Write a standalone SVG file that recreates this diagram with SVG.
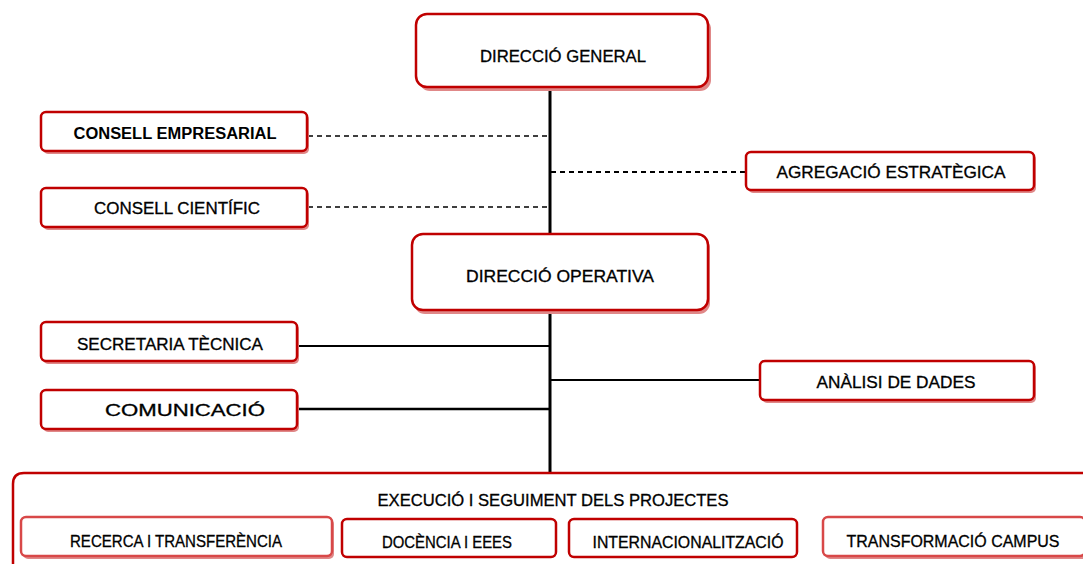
<svg xmlns="http://www.w3.org/2000/svg" width="1083" height="564" viewBox="0 0 1083 564">
<style>
.box{fill:#ffffff;stroke:#c00000;stroke-width:2.5}
.sh{fill:#e08888;stroke:none}
.t{font-family:"Liberation Sans",Arial,sans-serif;font-size:16px;fill:#000;stroke:#000;stroke-width:0.3;text-anchor:middle;dominant-baseline:central}
.b{font-weight:bold;stroke-width:0}
.solid{stroke:#000;stroke-width:2;fill:none}
.dash{stroke:#000;stroke-width:1.5;stroke-dasharray:5,4;fill:none}
</style>
<rect width="1083" height="564" fill="#ffffff"/>
<g id="connectors">
<line class="solid" x1="550" y1="88" x2="550" y2="473" style="stroke-width:3"/>
<line class="dash" x1="308" y1="136" x2="549" y2="136"/>
<line class="dash" x1="308" y1="207" x2="549" y2="207"/>
<line class="dash" x1="551" y1="172" x2="746" y2="172" style="stroke-width:2"/>
<line class="solid" x1="298" y1="346" x2="549" y2="346"/>
<line class="solid" x1="298" y1="409" x2="549" y2="409" style="stroke-width:2.5"/>
<line class="solid" x1="551" y1="380" x2="760" y2="380"/>
</g>
<g id="direccio-general">
<rect class="sh" x="419" y="18" width="292" height="73" rx="11"/>
<rect class="box" x="416" y="14" width="292" height="73" rx="11"/>
<text class="t" x="563" y="56" textLength="166" lengthAdjust="spacingAndGlyphs">DIRECCIÓ GENERAL</text>
</g>
<g id="consell-empresarial">
<rect class="sh" x="43" y="114" width="266" height="40" rx="5"/>
<rect class="box" x="41" y="112" width="266" height="39" rx="5"/>
<text class="t b" x="175" y="133" textLength="203" lengthAdjust="spacingAndGlyphs">CONSELL EMPRESARIAL</text>
</g>
<g id="consell-cientific">
<rect class="sh" x="43" y="190" width="266" height="40" rx="5"/>
<rect class="box" x="41" y="188" width="266" height="39" rx="5"/>
<text class="t" x="177" y="208" textLength="166" lengthAdjust="spacingAndGlyphs">CONSELL CIENTÍFIC</text>
</g>
<g id="agregacio-estrategica">
<rect class="sh" x="748" y="154" width="288" height="39" rx="5"/>
<rect class="box" x="746" y="152" width="288" height="38" rx="5"/>
<text class="t" x="891" y="172" textLength="229" lengthAdjust="spacingAndGlyphs">AGREGACIÓ ESTRATÈGICA</text>
</g>
<g id="direccio-operativa">
<rect class="sh" x="414" y="237" width="296" height="77" rx="11"/>
<rect class="box" x="412" y="234" width="296" height="76" rx="11"/>
<text class="t" x="560" y="276" textLength="188" lengthAdjust="spacingAndGlyphs">DIRECCIÓ OPERATIVA</text>
</g>
<g id="secretaria-tecnica">
<rect class="sh" x="43" y="324" width="256" height="40" rx="5"/>
<rect class="box" x="41" y="322" width="256" height="39" rx="5"/>
<text class="t" x="170" y="344" textLength="186" lengthAdjust="spacingAndGlyphs">SECRETARIA TÈCNICA</text>
</g>
<g id="comunicacio">
<rect class="sh" x="43" y="392" width="256" height="40" rx="5"/>
<rect class="box" x="41" y="390" width="256" height="39" rx="5"/>
<text class="t" x="185" y="410" textLength="160" lengthAdjust="spacingAndGlyphs">COMUNICACIÓ</text>
</g>
<g id="analisi-de-dades">
<rect class="sh" x="762" y="363" width="274" height="40" rx="5"/>
<rect class="box" x="760" y="361" width="274" height="39" rx="5"/>
<text class="t" x="896" y="382" textLength="159" lengthAdjust="spacingAndGlyphs">ANÀLISI DE DADES</text>
</g>
<g id="execucio">
<path class="box" d="M13,570 L13,484 Q13,473 24,473 L1090,473" />
<text class="t" x="553" y="500" textLength="351" lengthAdjust="spacingAndGlyphs">EXECUCIÓ I SEGUIMENT DELS PROJECTES</text>
</g>
<g id="recerca">
<rect class="sh" x="23" y="519" width="311" height="40" rx="5"/>
<rect class="box" x="21" y="517" width="311" height="39" rx="5" style="stroke:#d84848"/>
<text class="t" x="176" y="541" textLength="212" lengthAdjust="spacingAndGlyphs">RECERCA I TRANSFERÈNCIA</text>
</g>
<g id="docencia">
<rect class="box" x="342" y="519" width="214" height="38" rx="5"/>
<text class="t" x="447" y="542" textLength="130" lengthAdjust="spacingAndGlyphs">DOCÈNCIA I EEES</text>
</g>
<g id="internacionalitzacio">
<rect class="box" x="569" y="519" width="228" height="38" rx="5"/>
<text class="t" x="688" y="542" textLength="191" lengthAdjust="spacingAndGlyphs">INTERNACIONALITZACIÓ</text>
</g>
<g id="transformacio-campus">
<rect class="sh" x="825" y="519" width="262" height="40" rx="5"/>
<rect class="box" x="823" y="517" width="262" height="39" rx="5" style="stroke:#d84848"/>
<text class="t" x="953" y="541" textLength="213" lengthAdjust="spacingAndGlyphs">TRANSFORMACIÓ CAMPUS</text>
</g>
</svg>
